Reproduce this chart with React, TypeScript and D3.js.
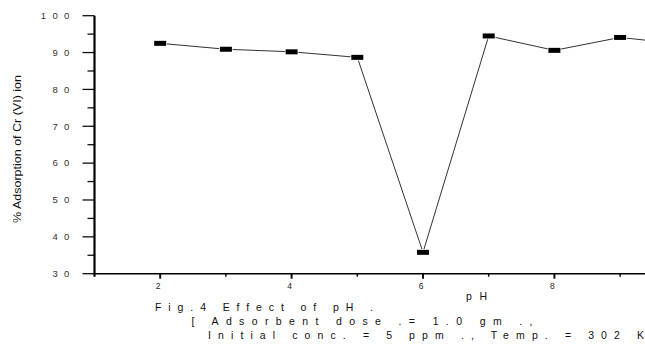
import React, { useEffect, useRef } from "react";
import * as d3 from "d3";

// pH values and % adsorption
const phValues = [2, 3, 4, 5, 6, 7, 8, 9, 10];
const adsorption = [92.5, 90.9, 90.2, 88.7, 35.8, 94.5, 90.6, 94.1, 92.2];
const yMajorTicks = [30, 40, 50, 60, 70, 80, 90, 100];
const yMinorTicks = [35, 45, 55, 65, 75, 85, 95];
const xMajorTicks = [2, 4, 6, 8];
const xMinorTicks = [3, 5, 7, 9];

const yTitle = "% Adsorption of Cr (VI) ion";
const xTitle = "p H";
const captionLines = [
  "Fig.4  Effect of pH  .",
  "[ Adsorbent dose .= 1.0 gm .,",
  "Initial conc. = 5 ppm ., Temp. = 302 K",
];

const W = 645,
  H = 344;

export default function App() {
  const ref = useRef<SVGSVGElement>(null);

  useEffect(() => {
    const svg = d3.select(ref.current);
    svg.selectAll("*").remove();

    const x = d3.scaleLinear().domain([1, 10]).range([94.5, 685.8]);
    const y = d3.scaleLinear().domain([30, 100]).range([273.7, 15.7]);
    const font = "'Liberation Sans', Arial, sans-serif";
    const x0 = x(1);

    // y axis ticks, drawn by hand
    svg
      .append("g")
      .selectAll("line")
      .data(yMajorTicks)
      .join("line")
      .attr("x1", x0 - 12)
      .attr("x2", x0)
      .attr("y1", (d) => y(d))
      .attr("y2", (d) => y(d))
      .attr("stroke", "#111")
      .attr("stroke-width", 1.3);
    svg
      .append("g")
      .selectAll("line")
      .data(yMinorTicks)
      .join("line")
      .attr("x1", x0 - 7)
      .attr("x2", x0)
      .attr("y1", (d) => y(d))
      .attr("y2", (d) => y(d))
      .attr("stroke", "#111")
      .attr("stroke-width", 1.3);

    svg
      .append("g")
      .selectAll("text")
      .data(yMajorTicks)
      .join("text")
      .attr("x", 71)
      .attr("y", (d) => y(d))
      .attr("dy", "0.35em")
      .attr("text-anchor", "end")
      .attr("font-family", font)
      .attr("font-size", 9.5)
      .attr("letter-spacing", 1.8)
      .attr("fill", "#333")
      .text((d) => String(d).split("").join(" "));

    // x axis ticks
    const gx = svg.append("g").attr("transform", `translate(0,${y(30)})`);
    gx.selectAll("line.maj")
      .data(xMajorTicks)
      .join("line")
      .attr("x1", (d) => x(d))
      .attr("x2", (d) => x(d))
      .attr("y1", 0)
      .attr("y2", 5)
      .attr("stroke", "#111")
      .attr("stroke-width", 2);
    gx.selectAll("line.min")
      .data(xMinorTicks)
      .join("line")
      .attr("x1", (d) => x(d))
      .attr("x2", (d) => x(d))
      .attr("y1", 0)
      .attr("y2", 3)
      .attr("stroke", "#111")
      .attr("stroke-width", 1.5);
    gx.selectAll("text")
      .data(xMajorTicks)
      .join("text")
      .attr("x", (d) => x(d) - 2)
      .attr("y", 15)
      .attr("text-anchor", "middle")
      .attr("font-family", font)
      .attr("font-size", 8.5)
      .attr("fill", "#222")
      .text((d) => d);

    // axis lines
    svg
      .append("line")
      .attr("x1", x0)
      .attr("x2", W)
      .attr("y1", y(30))
      .attr("y2", y(30))
      .attr("stroke", "#000")
      .attr("stroke-width", 1.5);
    svg
      .append("line")
      .attr("x1", x0)
      .attr("x2", x0)
      .attr("y1", y(100))
      .attr("y2", y(30) + 3)
      .attr("stroke", "#000")
      .attr("stroke-width", 2.2);

    // data line
    const pts = phValues.map((p, i) => [p, adsorption[i]] as [number, number]);
    const line = d3
      .line<[number, number]>()
      .x((d) => x(d[0]))
      .y((d) => y(d[1]));
    svg
      .append("path")
      .attr("d", line(pts))
      .attr("fill", "none")
      .attr("stroke", "#333")
      .attr("stroke-width", 1);

    svg
      .append("g")
      .selectAll("rect")
      .data(pts)
      .join("rect")
      .attr("x", (d) => x(d[0]) - 6)
      .attr("y", (d) => y(d[1]) - 2.5)
      .attr("width", 12)
      .attr("height", 5)
      .attr("fill", "#000")
      .attr("stroke", "#fff")
      .attr("stroke-width", 1.5)
      .attr("paint-order", "stroke");

    // titles
    svg
      .append("text")
      .attr("transform", "translate(20.5,149) rotate(-90)")
      .attr("text-anchor", "middle")
      .attr("font-family", font)
      .attr("font-size", 10)
      .attr("textLength", 148)
      .attr("lengthAdjust", "spacingAndGlyphs")
      .attr("fill", "#111")
      .text(yTitle);

    svg
      .append("text")
      .attr("x", 466)
      .attr("y", 300)
      .attr("font-family", font)
      .attr("font-size", 10.5)
      .attr("textLength", 21)
      .attr("lengthAdjust", "spacing")
      .attr("fill", "#111")
      .text(xTitle);

    const capX = [155, 191.5, 208];
    const capY = [311, 324.5, 338.5];
    const capLen = [218, 341, 436];
    svg
      .append("g")
      .selectAll("text")
      .data(captionLines)
      .join("text")
      .attr("x", (_, i) => capX[i])
      .attr("y", (_, i) => capY[i])
      .attr("font-family", font)
      .attr("font-size", 10.5)
      .attr("textLength", (_, i) => capLen[i])
      .attr("lengthAdjust", "spacing")
      .attr("fill", "#111")
      .text((d) => d);
  }, []);

  return (
    <svg
      ref={ref}
      width={W}
      height={H}
      style={{ position: "absolute", left: 0, top: 0, background: "#fff" }}
    />
  );
}
